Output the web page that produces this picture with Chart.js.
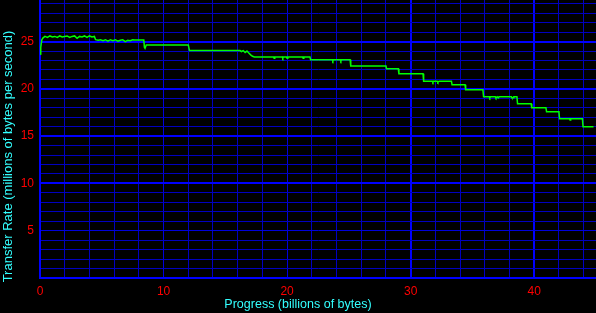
<!DOCTYPE html>
<html><head><meta charset="utf-8">
<script src="https://cdn.jsdelivr.net/npm/chart.js@4/dist/chart.umd.min.js"></script>
<style>html,body{margin:0;padding:0;background:#000;overflow:hidden}canvas{display:block}</style>
</head><body>
<canvas id="c" width="596" height="313"></canvas>
<script>
const progress = [
  0, 0.04, 0.08, 0.15, 0.25, 0.4, 0.6, 0.8, 1.0, 1.2, 1.4, 1.6, 1.8, 2.0, 2.2, 2.4, 2.6, 2.8, 3.0, 3.2, 3.4, 3.6, 3.8, 4.0, 4.2, 4.4,
  4.5, 4.7, 4.9, 5.1, 5.3, 5.5, 5.7, 5.9, 6.1, 6.3, 6.5, 6.7, 6.9, 7.1, 7.3, 7.5, 7.65,
  8.4, 8.45, 8.5, 8.6,
  12.0, 12.1,
  16.2, 16.3, 16.45, 16.6, 16.75, 16.9, 17.05, 17.2, 17.35,
  18.9, 18.95, 19.0, 19.6, 19.65, 19.7, 19.95, 20.0, 20.05, 21.25, 21.3, 21.35, 21.85, 21.9,
  23.65, 23.7, 23.75, 24.3, 24.35, 24.4, 25.1, 25.15,
  28.0, 28.05, 29.0, 29.05, 31.0, 31.05,
  31.75, 31.8, 31.85, 32.15, 32.2, 32.3, 33.3, 33.35,
  34.4, 34.45, 35.85, 35.9,
  36.35, 36.4, 36.45, 36.85, 36.9, 37.0, 37.1, 37.15, 38.15, 38.2, 38.3, 38.35, 38.6, 38.65,
  39.75, 39.8, 40.95, 41.0, 42.0, 42.05, 42.85, 42.9, 42.95, 43.9, 43.95, 44.8
];
const rate = [
  24.3, 23.6, 24.4, 25.2, 25.4, 25.55, 25.45, 25.6, 25.5, 25.55, 25.45, 25.6, 25.5, 25.55, 25.6, 25.45, 25.55, 25.6, 25.35, 25.55, 25.5, 25.6, 25.45, 25.6, 25.5, 25.55,
  25.2, 25.15, 25.2, 25.1, 25.2, 25.05, 25.2, 25.1, 25.2, 25.05, 25.15, 25.2, 25.0, 25.15, 25.1, 25.2, 25.18,
  25.18, 24.4, 24.3, 24.65,
  24.65, 24.05,
  24.05, 23.95, 24.05, 23.85, 24.0, 23.8, 23.6, 23.45, 23.38,
  23.38, 23.25, 23.38, 23.38, 23.25, 23.38, 23.38, 23.25, 23.38, 23.38, 23.25, 23.38, 23.38, 23.07,
  23.07, 22.95, 23.07, 23.07, 22.95, 23.07, 23.07, 22.43,
  22.43, 22.12, 22.12, 21.59, 21.59, 20.81,
  20.81, 20.7, 20.81, 20.81, 20.7, 20.81, 20.81, 20.43,
  20.43, 19.9, 19.9, 19.16,
  19.16, 19.05, 19.16, 19.16, 19.05, 19.16, 19.05, 19.16, 19.16, 19.05, 19.05, 19.16, 19.16, 18.42,
  18.42, 18.0, 18.0, 17.58, 17.58, 16.84, 16.84, 16.72, 16.84, 16.84, 15.99, 15.99
];
const xTickLabels = [0, 10, 20, 30, 40];
const yTickLabels = [5, 10, 15, 20, 25];
const xTitle = 'Progress (billions of bytes)';
const yTitle = 'Transfer Rate (millions of bytes per second)';

const points = progress.map((x, i) => ({x: x, y: rate[i]}));
const FONT = '"Liberation Sans", Arial, sans-serif';
const RED = '#ff0000', CYAN = '#33ffff', BRIGHT = '#0000ff', MID = '#0000dc', DIM = '#0000c0';

function xGridColor(c) {
  const v = c.tick ? c.tick.value : -1;
  if (v === 30 || v === 40) return BRIGHT;
  if (v === 10 || v === 20) return MID;
  return DIM;
}
function xGridWidth(c) {
  const v = c.tick ? c.tick.value : -1;
  return (v === 30 || v === 40) ? 2 : 1;
}
function yGridColor(c) {
  const v = c.tick ? c.tick.value : -1;
  if (v >= 10 && v % 5 === 0) return BRIGHT;
  if (v === 5) return MID;
  return DIM;
}
function yGridWidth(c) {
  const v = c.tick ? c.tick.value : -1;
  return (v >= 10 && v % 5 === 0) ? 2 : 1;
}

new Chart(document.getElementById('c'), {
  type: 'scatter',
  data: { datasets: [{
    data: points, showLine: true, pointRadius: 0, borderColor: '#00ff00',
    borderWidth: 1.5, tension: 0, fill: false
  }]},
  options: {
    responsive: false, animation: false,
    layout: { padding: 0 },
    plugins: {
      legend: { display: false }, tooltip: { enabled: false },
      title: { display: true, position: 'bottom', text: xTitle, color: CYAN,
        font: { family: FONT, size: 12.5, weight: 'normal', lineHeight: '16px' }, padding: 0 },
      subtitle: { display: true, position: 'left', text: yTitle, color: CYAN,
        font: { family: FONT, size: 13, weight: 'normal', lineHeight: '16px' }, padding: 0 }
    },
    scales: {
      x: {
        type: 'linear', min: 0, max: 45,
        afterFit: s => { s.height = 19; s.paddingLeft = 0; s.paddingRight = 0; },
        border: { color: BRIGHT, width: 2 },
        grid: { drawTicks: false, color: xGridColor, lineWidth: xGridWidth },
        ticks: { stepSize: 2, includeBounds: false, autoSkip: false, maxRotation: 0, padding: 6,
          color: RED, font: { family: FONT, size: 12 },
          callback: v => xTickLabels.includes(v) ? String(v) : '' }
      },
      y: {
        type: 'linear', min: 0, max: 29.4,
        afterFit: s => { s.width = 24; s.paddingTop = 0; s.paddingBottom = 0; },
        border: { color: BRIGHT, width: 2 },
        grid: { drawTicks: false, color: yGridColor, lineWidth: yGridWidth },
        ticks: { stepSize: 1, includeBounds: false, autoSkip: false, padding: 6,
          color: RED, font: { family: FONT, size: 12 },
          callback: v => yTickLabels.includes(v) ? String(v) : '' }
      }
    }
  }
});
</script>
</body></html>
